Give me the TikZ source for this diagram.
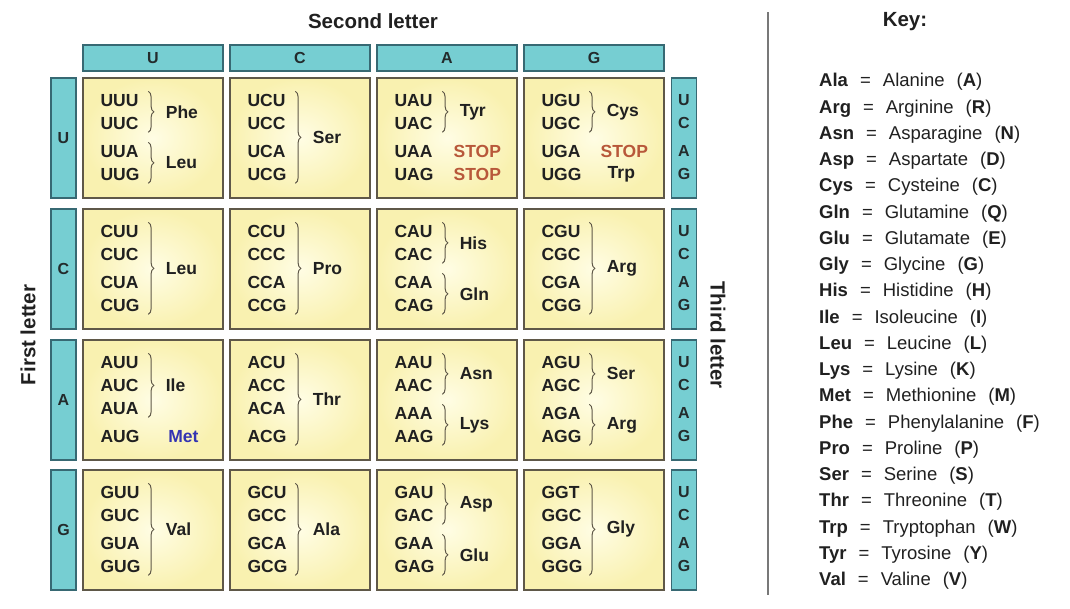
\documentclass[tikz,border=0pt]{standalone}
\usepackage{fontspec}
\setmainfont{Liberation Sans}
\usepackage{tikz}
\usetikzlibrary{positioning,calc,decorations.pathreplacing}

\definecolor{barfill}{RGB}{118,206,210}
\definecolor{barline}{RGB}{55,105,115}
\definecolor{celllight}{RGB}{255,253,228}
\definecolor{celldark}{RGB}{249,241,176}
\definecolor{cellline}{RGB}{95,88,72}
\definecolor{ink}{RGB}{32,32,32}
\definecolor{stopred}{RGB}{184,88,58}
\definecolor{metblue}{RGB}{52,52,178}
\definecolor{divider}{RGB}{120,120,120}

\tikzset{
  cellbox/.style={rectangle, draw=cellline, line width=1.3pt, minimum width=140pt, minimum height=120pt,
    shading=radial, inner color=celllight, outer color=celldark},
  colbar/.style={rectangle, draw=barline, line width=1.5pt, fill=barfill, minimum width=140pt, minimum height=26pt,
    inner sep=0pt, font=\fontsize{16}{16}\selectfont\bfseries, text=ink!85!barline},
  rowbar/.style={rectangle, draw=barline, line width=1.5pt, fill=barfill, minimum width=25pt, minimum height=120pt,
    inner sep=0pt, font=\fontsize{16}{16}\selectfont\bfseries, text=ink!85!barline},
  barletter/.style={inner sep=0pt, font=\fontsize{16}{16}\selectfont\bfseries, text=ink!85!barline},
  codon/.style={anchor=west, inner sep=0pt, font=\fontsize{17.5}{17.5}\selectfont\bfseries, text=ink},
  aa/.style={inner sep=0pt, font=\fontsize{17.5}{17.5}\selectfont\bfseries, text=ink},
  brc/.style={decorate, decoration={brace, amplitude=5.5pt}, draw=cellline, line width=1pt},
  axislabel/.style={font=\fontsize{20.5}{20.5}\selectfont\bfseries, text=ink},
  keyrow/.style={anchor=west, inner sep=0pt, font=\fontsize{18.5}{18.5}\selectfont, text=ink}
}

% four codons of one cell, third one at offset #2
\newcommand{\codons}[6]{%
  \node[codon] (#3) at ([shift={(18,23)}]#1.north west) {#3};
  \node[codon] (#4) at ([shift={(18,46)}]#1.north west) {#4};
  \node[codon] (#5) at ([shift={(18,#2)}]#1.north west) {#5};
  \node[codon] (#6) at ([shift={(18,97)}]#1.north west) {#6};
}
% brace from codon #1 to codon #2 with amino acid #3
\newcommand{\aagroup}[3]{%
  \draw[brc] ([shift={(48,-9)}]#1.west) -- ([shift={(48,9)}]#2.west)
    node[aa, midway, anchor=west, xshift=17pt] (#1-aa) {#3};
}
\newcommand{\kentry}[3]{\textbf{#1}\hspace{12pt}=\hspace{12pt}#2\hspace{12pt}(\textbf{#3})}

\begin{document}
\begin{tikzpicture}[x=1pt, y=-1pt]
    \useasboundingbox (0,0) rectangle (1070,608);

    % axis titles
    \node[axislabel] (second) at (373,21) {Second letter};
    \node[axislabel, rotate=90] (first) at (28,335) {First letter};
    \node[axislabel, rotate=-90] (third) at (718,335) {Third letter};

    % second letter
    \node[colbar] (hU) at (153,58) {U};
    \node[colbar] (hC) at (300,58) {C};
    \node[colbar] (hA) at (447,58) {A};
    \node[colbar] (hG) at (594,58) {G};

    % first letter
    \node[rowbar] (rU) at (63.5,138) {U};
    \node[rowbar] (rC) at (63.5,269) {C};
    \node[rowbar] (rA) at (63.5,400) {A};
    \node[rowbar] (rG) at (63.5,530) {G};

    % cells
    \node[cellbox] (cUU) at (153,138) {};
    \node[cellbox] (cUC) at (300,138) {};
    \node[cellbox] (cUA) at (447,138) {};
    \node[cellbox] (cUG) at (594,138) {};
    \node[cellbox] (cCU) at (153,269) {};
    \node[cellbox] (cCC) at (300,269) {};
    \node[cellbox] (cCA) at (447,269) {};
    \node[cellbox] (cCG) at (594,269) {};
    \node[cellbox] (cAU) at (153,400) {};
    \node[cellbox] (cAC) at (300,400) {};
    \node[cellbox] (cAA) at (447,400) {};
    \node[cellbox] (cAG) at (594,400) {};
    \node[cellbox] (cGU) at (153,530) {};
    \node[cellbox] (cGC) at (300,530) {};
    \node[cellbox] (cGA) at (447,530) {};
    \node[cellbox] (cGG) at (594,530) {};

    % third letter
    \node[rowbar] (tU) at (684,138) {};
    \node[rowbar] (tC) at (684,269) {};
    \node[rowbar] (tA) at (684,400) {};
    \node[rowbar] (tG) at (684,530) {};
    \foreach \t in {tU,tC,tA,tG}{
      \node[barletter] at ([yshift=-23pt]\t.north) {U};
      \node[barletter] at ([yshift=-46pt]\t.north) {C};
      \node[barletter] at ([yshift=-74pt]\t.north) {A};
      \node[barletter] at ([yshift=-97pt]\t.north) {G};
    }

    % row U
    \codons{cUU}{74}{UUU}{UUC}{UUA}{UUG}
    \aagroup{UUU}{UUC}{Phe}
    \aagroup{UUA}{UUG}{Leu}
    \codons{cUC}{74}{UCU}{UCC}{UCA}{UCG}
    \aagroup{UCU}{UCG}{Ser}
    \codons{cUA}{74}{UAU}{UAC}{UAA}{UAG}
    \aagroup{UAU}{UAC}{Tyr}
    \node[aa, text=stopred] (UAA-aa) at ([xshift=83pt]UAA.west) {STOP};
    \node[aa, text=stopred] (UAG-aa) at ([xshift=83pt]UAG.west) {STOP};
    \codons{cUG}{74}{UGU}{UGC}{UGA}{UGG}
    \aagroup{UGU}{UGC}{Cys}
    \node[aa, text=stopred] (UGA-aa) at ([xshift=83pt]UGA.west) {STOP};
    \node[aa] (UGG-aa) at ([xshift=80pt]UGG.west) {Trp};

    % row C
    \codons{cCU}{74}{CUU}{CUC}{CUA}{CUG}
    \aagroup{CUU}{CUG}{Leu}
    \codons{cCC}{74}{CCU}{CCC}{CCA}{CCG}
    \aagroup{CCU}{CCG}{Pro}
    \codons{cCA}{74}{CAU}{CAC}{CAA}{CAG}
    \aagroup{CAU}{CAC}{His}
    \aagroup{CAA}{CAG}{Gln}
    \codons{cCG}{74}{CGU}{CGC}{CGA}{CGG}
    \aagroup{CGU}{CGG}{Arg}

    % row A
    \codons{cAU}{69}{AUU}{AUC}{AUA}{AUG}
    \aagroup{AUU}{AUA}{Ile}
    \node[aa, text=metblue] (AUG-aa) at ([xshift=83pt]AUG.west) {Met};
    \codons{cAC}{69}{ACU}{ACC}{ACA}{ACG}
    \aagroup{ACU}{ACG}{Thr}
    \codons{cAA}{74}{AAU}{AAC}{AAA}{AAG}
    \aagroup{AAU}{AAC}{Asn}
    \aagroup{AAA}{AAG}{Lys}
    \codons{cAG}{74}{AGU}{AGC}{AGA}{AGG}
    \aagroup{AGU}{AGC}{Ser}
    \aagroup{AGA}{AGG}{Arg}

    % row G
    \codons{cGU}{74}{GUU}{GUC}{GUA}{GUG}
    \aagroup{GUU}{GUG}{Val}
    \codons{cGC}{74}{GCU}{GCC}{GCA}{GCG}
    \aagroup{GCU}{GCG}{Ala}
    \codons{cGA}{74}{GAU}{GAC}{GAA}{GAG}
    \aagroup{GAU}{GAC}{Asp}
    \aagroup{GAA}{GAG}{Glu}
    \codons{cGG}{74}{GGT}{GGC}{GGA}{GGG}
    \aagroup{GGT}{GGG}{Gly}

    % divider
    \coordinate (divtop) at (768,12);
    \coordinate (divbot) at (768,595);
    \draw[divider, line width=1.4pt] (divtop) -- (divbot);

    % key
    \node[axislabel] (key) at (905,22) {Key:};
    \node[keyrow] (kAla) at (819,82) {\kentry{Ala}{Alanine}{A}};
    \node[keyrow] (kArg) at (819,108.3) {\kentry{Arg}{Arginine}{R}};
    \node[keyrow] (kAsn) at (819,134.5) {\kentry{Asn}{Asparagine}{N}};
    \node[keyrow] (kAsp) at (819,160.8) {\kentry{Asp}{Aspartate}{D}};
    \node[keyrow] (kCys) at (819,187) {\kentry{Cys}{Cysteine}{C}};
    \node[keyrow] (kGln) at (819,213.3) {\kentry{Gln}{Glutamine}{Q}};
    \node[keyrow] (kGlu) at (819,239.6) {\kentry{Glu}{Glutamate}{E}};
    \node[keyrow] (kGly) at (819,265.8) {\kentry{Gly}{Glycine}{G}};
    \node[keyrow] (kHis) at (819,292.1) {\kentry{His}{Histidine}{H}};
    \node[keyrow] (kIle) at (819,318.3) {\kentry{Ile}{Isoleucine}{I}};
    \node[keyrow] (kLeu) at (819,344.6) {\kentry{Leu}{Leucine}{L}};
    \node[keyrow] (kLys) at (819,370.9) {\kentry{Lys}{Lysine}{K}};
    \node[keyrow] (kMet) at (819,397.1) {\kentry{Met}{Methionine}{M}};
    \node[keyrow] (kPhe) at (819,423.4) {\kentry{Phe}{Phenylalanine}{F}};
    \node[keyrow] (kPro) at (819,449.6) {\kentry{Pro}{Proline}{P}};
    \node[keyrow] (kSer) at (819,475.9) {\kentry{Ser}{Serine}{S}};
    \node[keyrow] (kThr) at (819,502.2) {\kentry{Thr}{Threonine}{T}};
    \node[keyrow] (kTrp) at (819,528.4) {\kentry{Trp}{Tryptophan}{W}};
    \node[keyrow] (kTyr) at (819,554.7) {\kentry{Tyr}{Tyrosine}{Y}};
    \node[keyrow] (kVal) at (819,581) {\kentry{Val}{Valine}{V}};
\end{tikzpicture}
\end{document}
